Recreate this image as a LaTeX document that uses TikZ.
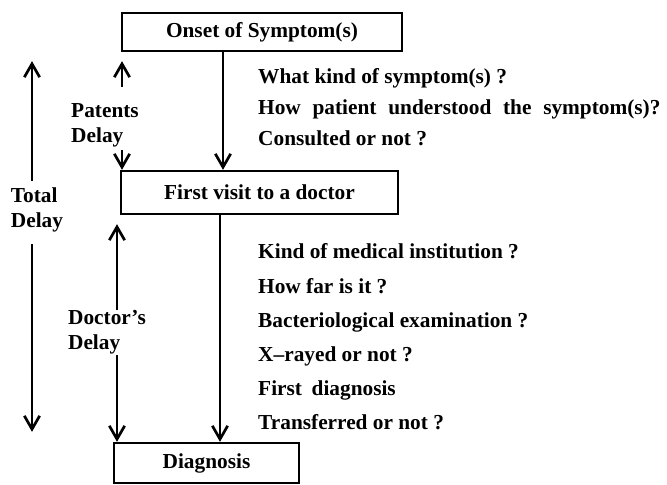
\documentclass[tikz,border=0pt]{standalone}
\usepackage{fontspec}
\setmainfont{Liberation Serif}
\usetikzlibrary{positioning,arrows.meta}

\begin{document}
\begin{tikzpicture}[x=0.03cm,y=-0.03cm,
  font=\fontsize{18.2}{21.3}\selectfont\bfseries,
  box/.style={rectangle,draw,line width=2pt,inner sep=0pt},
  question/.style={anchor=base west,inner sep=0pt},
  delay label/.style={align=left,inner sep=0pt},
  link/.style={line width=1.5pt,-{Straight Barb[length=4mm,width=4.6mm,line width=2.3pt]}}]

  \useasboundingbox (0,0) rectangle (667,485);

  \node[box,minimum width=8.4cm,minimum height=1.14cm] (onset) at (262,32) {Onset of Symptom(s)};
  \node[box,minimum width=8.31cm,minimum height=1.29cm] (visit) at (259.5,192.5) {First visit to a doctor};
  \node[box,minimum width=5.55cm,minimum height=1.2cm] (diag) at (206.5,463) {Diagnosis};

  % x positions of the vertical arrows
  \coordinate (tx) at (32,0);
  \coordinate (px) at (122,0);
  \coordinate (dx) at (117,0);
  \coordinate (ax) at (223,0);
  \coordinate (bx) at (220,0);

  \draw[link] (onset.south -| ax) -- (visit.north -| ax);
  \draw[link] (visit.south -| bx) -- (diag.north -| bx);

  % patient side
  \node[question] (q1) at (258,84) {What kind of symptom(s) ?};
  \node[question] (q2) [below=0.92cm of q1.base west,anchor=base west] {How\hspace{0.3em} patient\hspace{0.3em} understood\hspace{0.3em} the\hspace{0.3em} symptom(s)?};
  \node[question] (q3) [below=0.92cm of q2.base west,anchor=base west] {Consulted or not ?};

  % doctor side
  \node[question] (k1) at (258,259) {Kind of medical institution ?};
  \node[question] (k2) [below=1.02cm of k1.base west,anchor=base west] {How far is it ?};
  \node[question] (k3) [below=1.02cm of k2.base west,anchor=base west] {Bacteriological examination ?};
  \node[question] (k4) [below=1.02cm of k3.base west,anchor=base west] {X--rayed or not ?};
  \node[question] (k5) [below=1.02cm of k4.base west,anchor=base west] {First\hspace{0.2em} diagnosis};
  \node[question] (k6) [below=1.02cm of k5.base west,anchor=base west] {Transferred or not ?};

  \node[delay label] (pd) at (105,125) {Patents\\Delay};
  \node[delay label] (td) at (37,210) {Total\\Delay};
  \node[delay label] (dd) at (107,332) {Doctor's\\Delay};

  \draw[link,shorten <=0.48cm,shorten >=0.27cm] (pd.north -| px) -- (onset.south -| px);
  \draw[link,shorten <=0.08cm] (pd.south -| px) -- (visit.north -| px);
  \draw[link,shorten <=0.2cm,shorten >=0.27cm] (td.north -| tx) -- (onset.south -| tx);
  \draw[link,shorten <=0.36cm,shorten >=0.3cm] (td.south -| tx) -- (diag.north -| tx);
  \draw[link,shorten >=0.27cm] (dd.north -| dx) -- (visit.south -| dx);
  \draw[link,shorten <=0.03cm] (dd.south -| dx) -- (diag.north -| dx);

\end{tikzpicture}
\end{document}
